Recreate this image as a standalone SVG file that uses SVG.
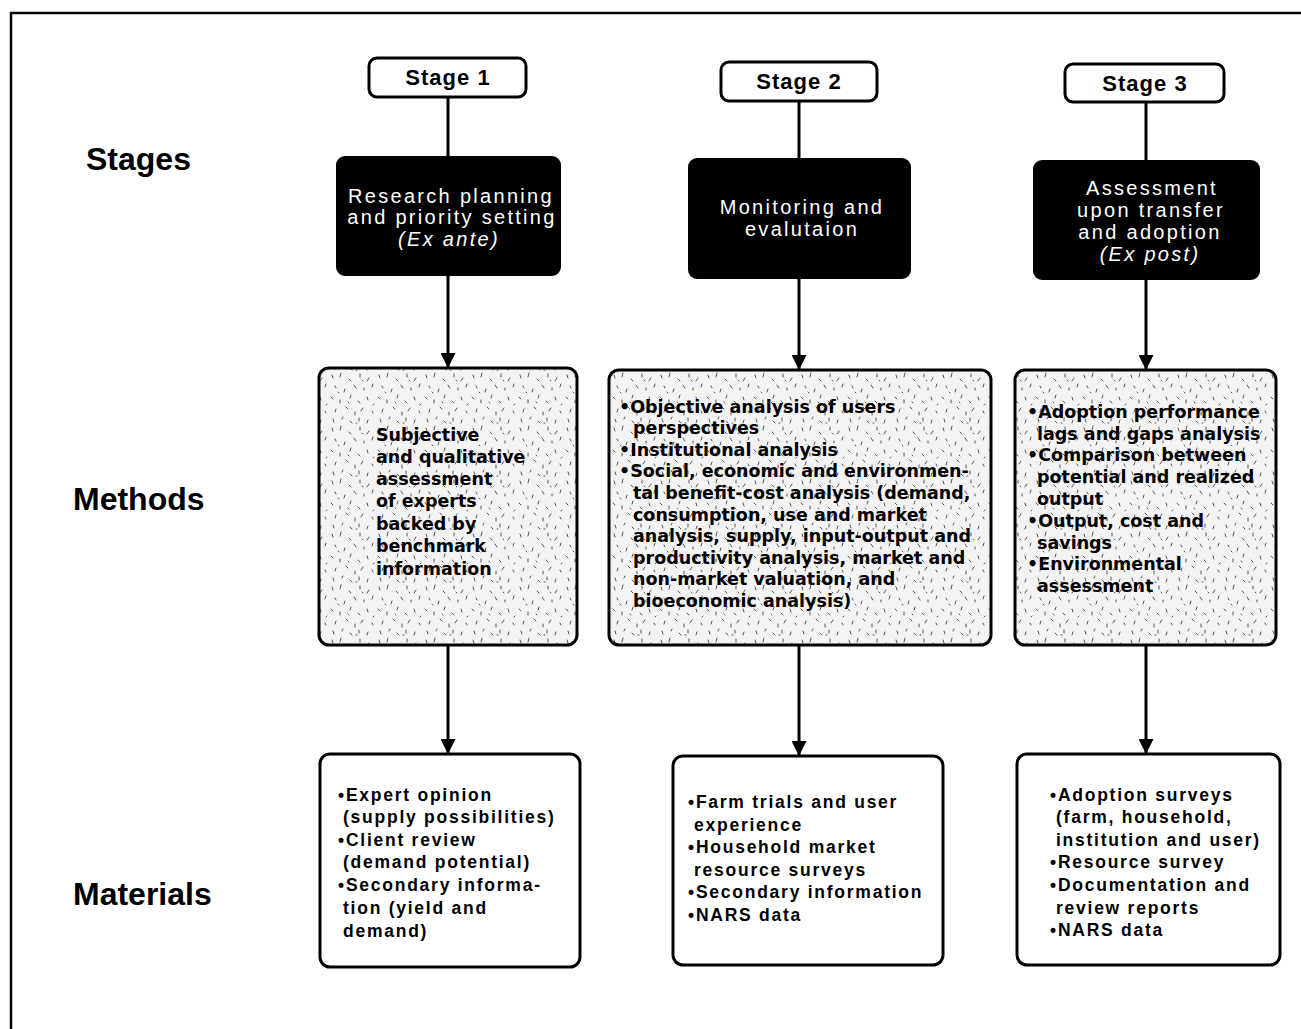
<svg xmlns="http://www.w3.org/2000/svg" width="1301" height="1029" viewBox="0 0 1301 1029">
<defs>
<pattern id="stip" width="47" height="53" patternUnits="userSpaceOnUse">
<rect width="47" height="53" fill="#f3f3f3"/>
<path d="M3 4l1 3 M12 2l-1 4 M20 8l2 2 M31 3l0 3 M40 7l-2 3 M6 15l1 2 M16 18l-1 3 M25 14l2 3 M35 17l0 2 M44 13l-1 3 M2 26l2 2 M11 29l0 3 M22 24l-1 3 M29 30l2 2 M38 26l1 3 M7 38l-1 3 M17 36l2 2 M26 41l0 3 M34 37l-2 3 M43 40l1 2 M4 48l1 3 M14 46l-1 2 M21 50l2 2 M30 47l0 3 M39 49l-1 3 M9 21l1 1 M33 9l1 1 M19 31l1 1 M45 33l-1 1 M27 52l1 0" stroke="#444" stroke-width="0.9" stroke-linecap="round" fill="none"/>
</pattern>
<marker id="arr" viewBox="0 0 10 10" refX="10" refY="5" markerWidth="5" markerHeight="5" orient="auto" markerUnits="strokeWidth">
<path d="M0 0L10 5L0 10z" fill="#000"/>
</marker>
<style>
.row{font-family:"Liberation Sans",Arial,sans-serif;font-weight:bold;font-size:32px;fill:#000}
.stg{fill:#fff;stroke:#000;stroke-width:3}
.stgt{font-family:"Liberation Sans",Arial,sans-serif;font-weight:bold;font-size:22px;fill:#000;text-anchor:middle;letter-spacing:1px}
.blk{fill:#000;stroke:#000;stroke-width:2}
.blkt{font-family:"Liberation Sans",Arial,sans-serif;font-size:20px;fill:#fff;text-anchor:middle;letter-spacing:2.3px}
.meth{fill:url(#stip);stroke:#000;stroke-width:3}
.metht{font-family:"DejaVu Sans",Verdana,sans-serif;font-weight:bold;font-size:17.5px;fill:#000}
.mat{fill:#fff;stroke:#000;stroke-width:3}
.matt{font-family:"Liberation Sans",Arial,sans-serif;font-weight:bold;font-size:17.5px;fill:#000;letter-spacing:1.75px}
.con{stroke:#000;stroke-width:3;fill:none}
</style>
</defs>
<rect width="1301" height="1029" fill="#fff"/>
<path d="M11 1029V13H1301" fill="none" stroke="#000" stroke-width="2.5"/>

<g id="labels">
<text class="row" x="86" y="170">Stages</text>
<text class="row" x="73" y="510">Methods</text>
<text class="row" x="73" y="905">Materials</text>
</g>

<g id="connectors">
<line class="con" x1="448" y1="97" x2="448" y2="157"/>
<line class="con" x1="448" y1="275" x2="448" y2="368" marker-end="url(#arr)"/>
<line class="con" x1="448" y1="645" x2="448" y2="754" marker-end="url(#arr)"/>
<line class="con" x1="799" y1="101" x2="799" y2="159"/>
<line class="con" x1="799" y1="278" x2="799" y2="370" marker-end="url(#arr)"/>
<line class="con" x1="799" y1="645" x2="799" y2="756" marker-end="url(#arr)"/>
<line class="con" x1="1146" y1="102" x2="1146" y2="161"/>
<line class="con" x1="1146" y1="279" x2="1146" y2="370" marker-end="url(#arr)"/>
<line class="con" x1="1146" y1="645" x2="1146" y2="754" marker-end="url(#arr)"/>
</g>

<g id="stage1">
<rect class="stg" x="369" y="58" width="157" height="39" rx="8"/>
<text class="stgt" x="448" y="85">Stage 1</text>
</g>
<g id="stage2">
<rect class="stg" x="721" y="62" width="156" height="39" rx="8"/>
<text class="stgt" x="799" y="89">Stage 2</text>
</g>
<g id="stage3">
<rect class="stg" x="1065" y="64" width="159" height="38" rx="8"/>
<text class="stgt" x="1145" y="91">Stage 3</text>
</g>

<g id="phase1">
<rect class="blk" x="337" y="157" width="223" height="118" rx="8"/>
<text class="blkt" x="451" y="203">Research planning</text>
<text class="blkt" x="452" y="224">and priority setting</text>
<text class="blkt" x="449" y="246" font-style="italic" letter-spacing="1.5">(Ex ante)</text>
</g>
<g id="phase2">
<rect class="blk" x="689" y="159" width="221" height="119" rx="8"/>
<text class="blkt" x="802" y="214" letter-spacing="2.5">Monitoring and</text>
<text class="blkt" x="802" y="236" letter-spacing="2.5">evalutaion</text>
</g>
<g id="phase3">
<rect class="blk" x="1034" y="161" width="225" height="118" rx="8"/>
<text class="blkt" x="1152" y="195" letter-spacing="6">Assessment</text>
<text class="blkt" x="1151" y="217" letter-spacing="4">upon transfer</text>
<text class="blkt" x="1150" y="239" letter-spacing="3.2">and adoption</text>
<text class="blkt" x="1150" y="261" font-style="italic" letter-spacing="1.8">(Ex post)</text>
</g>

<g id="method1">
<rect class="meth" x="319" y="368" width="258" height="277" rx="10"/>
<text class="metht" x="376" y="441">Subjective</text>
<text class="metht" x="376" y="463">and qualitative</text>
<text class="metht" x="376" y="485">assessment</text>
<text class="metht" x="376" y="507">of experts</text>
<text class="metht" x="376" y="530">backed by</text>
<text class="metht" x="376" y="552">benchmark</text>
<text class="metht" x="376" y="575">information</text>
</g>
<g id="method2">
<rect class="meth" x="609" y="370" width="382" height="275" rx="10"/>
<text class="metht" x="619" y="413">•Objective analysis of users</text>
<text class="metht" x="633" y="434">perspectives</text>
<text class="metht" x="619" y="456">•Institutional analysis</text>
<text class="metht" x="619" y="477">•Social, economic and environmen-</text>
<text class="metht" x="633" y="499">tal benefit-cost analysis (demand,</text>
<text class="metht" x="633" y="521">consumption, use and market</text>
<text class="metht" x="633" y="542">analysis, supply, input-output and</text>
<text class="metht" x="633" y="564">productivity analysis, market and</text>
<text class="metht" x="633" y="585">non-market valuation, and</text>
<text class="metht" x="633" y="607">bioeconomic analysis)</text>
</g>
<g id="method3">
<rect class="meth" x="1015" y="370" width="261" height="275" rx="10"/>
<text class="metht" x="1027" y="418">•Adoption performance</text>
<text class="metht" x="1037" y="440">lags and gaps analysis</text>
<text class="metht" x="1027" y="461">•Comparison between</text>
<text class="metht" x="1037" y="483">potential and realized</text>
<text class="metht" x="1037" y="505">output</text>
<text class="metht" x="1027" y="527">•Output, cost and</text>
<text class="metht" x="1037" y="549">savings</text>
<text class="metht" x="1027" y="570">•Environmental</text>
<text class="metht" x="1037" y="592">assessment</text>
</g>

<g id="material1">
<rect class="mat" x="320" y="754" width="260" height="213" rx="10"/>
<text class="matt" x="338" y="801">•Expert opinion</text>
<text class="matt" x="343" y="823">(supply possibilities)</text>
<text class="matt" x="338" y="846">•Client review</text>
<text class="matt" x="343" y="868">(demand potential)</text>
<text class="matt" x="338" y="891">•Secondary informa-</text>
<text class="matt" x="343" y="914">tion (yield and</text>
<text class="matt" x="343" y="937">demand)</text>
</g>
<g id="material2">
<rect class="mat" x="673" y="756" width="270" height="209" rx="10"/>
<text class="matt" x="688" y="808">•Farm trials and user</text>
<text class="matt" x="694" y="831">experience</text>
<text class="matt" x="688" y="853">•Household market</text>
<text class="matt" x="694" y="876">resource surveys</text>
<text class="matt" x="688" y="898">•Secondary information</text>
<text class="matt" x="688" y="921">•NARS data</text>
</g>
<g id="material3">
<rect class="mat" x="1017" y="754" width="263" height="211" rx="10"/>
<text class="matt" x="1050" y="801">•Adoption surveys</text>
<text class="matt" x="1056" y="823">(farm, household,</text>
<text class="matt" x="1056" y="846">institution and user)</text>
<text class="matt" x="1050" y="868">•Resource survey</text>
<text class="matt" x="1050" y="891">•Documentation and</text>
<text class="matt" x="1056" y="914">review reports</text>
<text class="matt" x="1050" y="936">•NARS data</text>
</g>
</svg>
